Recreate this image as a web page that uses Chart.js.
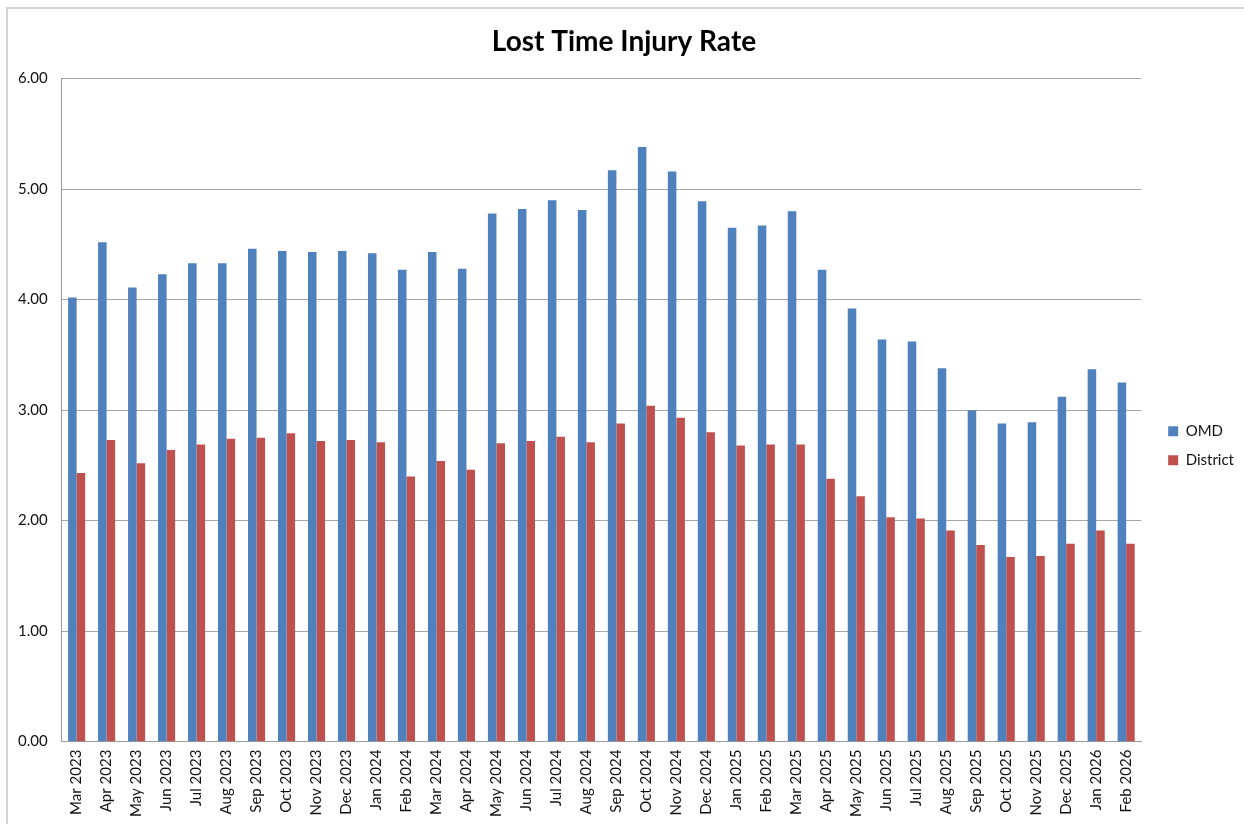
<!DOCTYPE html>
<html>
<head>
<meta charset="utf-8">
<script src="https://cdn.jsdelivr.net/npm/chart.js@4.4.1/dist/chart.umd.min.js"></script>
<style>
  html, body { margin: 0; padding: 0; background: #fff; }
  #wrap { width: 1244px; height: 824px; position: relative; }
</style>
</head>
<body>
<div id="wrap"><canvas id="barChart" width="1244" height="824"></canvas></div>
<script>
const months = [
    "Mar 2023", "Apr 2023", "May 2023", "Jun 2023", "Jul 2023", "Aug 2023",
    "Sep 2023", "Oct 2023", "Nov 2023", "Dec 2023", "Jan 2024", "Feb 2024",
    "Mar 2024", "Apr 2024", "May 2024", "Jun 2024", "Jul 2024", "Aug 2024",
    "Sep 2024", "Oct 2024", "Nov 2024", "Dec 2024", "Jan 2025", "Feb 2025",
    "Mar 2025", "Apr 2025", "May 2025", "Jun 2025", "Jul 2025", "Aug 2025",
    "Sep 2025", "Oct 2025", "Nov 2025", "Dec 2025", "Jan 2026", "Feb 2026"
];

const omd = [
    4.02, 4.52, 4.11, 4.23, 4.33, 4.33, 4.46, 4.44, 4.43, 4.44, 4.42, 4.27,
    4.43, 4.28, 4.78, 4.82, 4.90, 4.81, 5.17, 5.38, 5.16, 4.89, 4.65, 4.67,
    4.80, 4.27, 3.92, 3.64, 3.62, 3.38, 3.00, 2.88, 2.89, 3.12, 3.37, 3.25
];

const district = [
    2.43, 2.73, 2.52, 2.64, 2.69, 2.74, 2.75, 2.79, 2.72, 2.73, 2.71, 2.40,
    2.54, 2.46, 2.70, 2.72, 2.76, 2.71, 2.88, 3.04, 2.93, 2.80, 2.68, 2.69,
    2.69, 2.38, 2.22, 2.03, 2.02, 1.91, 1.78, 1.67, 1.68, 1.79, 1.91, 1.79
];

const yTicks = [0, 1, 2, 3, 4, 5, 6];

const FONT = "Lato, 'Liberation Sans', Arial, sans-serif";
const LEGEND_GAP = 13; // empty space between plot and legend

// light grey frame round the chart, like the spreadsheet chart box
const frame = {
    id: "frame",
    beforeDraw(chart) {
        const c = chart.ctx;
        c.save();
        c.fillStyle = "#fff";
        c.fillRect(0, 0, chart.width, chart.height);
        c.strokeStyle = "#d4d4d4";
        c.lineWidth = 2;
        c.beginPath();
        c.moveTo(7, chart.height);
        c.lineTo(7, 8);
        c.lineTo(chart.width, 8);
        c.stroke();
        c.restore();
    }
};

// widen the legend box on its left side so the plot stops short of it
const legendGap = {
    id: "legendGap",
    beforeLayout(chart) {
        const leg = chart.legend;
        if (!leg || leg._gapPatched) return;
        leg._gapPatched = true;
        const fit = leg.fit;
        leg.fit = function () {
            fit.call(this);
            this.width += LEGEND_GAP;
        };
        const draw = leg.draw;
        leg.draw = function () {
            this.left += LEGEND_GAP;
            draw.call(this);
            this.left -= LEGEND_GAP;
        };
    }
};

const ctx = document.getElementById("barChart");

new Chart(ctx, {
    type: "bar",
    data: {
        labels: months,
        datasets: [
        {
            label: "OMD",
            data: omd,
            backgroundColor: "#4F81BD",
            borderWidth: 0,
            barPercentage: 1,
            categoryPercentage: 0.57,
        },
        {
            label: "District",
            data: district,
            backgroundColor: "#C0504D",
            borderWidth: 0,
            barPercentage: 1,
            categoryPercentage: 0.57,
        },
        ],
    },
    options: {
        responsive: false,
        animation: false,
        layout: {
            padding: { top: 10, left: 4, right: 0, bottom: -1 },
        },
        plugins: {
            title: {
                display: true,
                text: "Lost Time Injury Rate",
                color: "#000",
                font: { family: FONT, size: 28, weight: "bold" },
                padding: { top: 15, bottom: 20 },
            },
            legend: {
                position: "right",
                title: {
                    display: true,
                    text: "",
                    font: { family: FONT, size: 12 },
                    padding: { top: 0, bottom: 42 },
                },
                labels: {
                    boxWidth: 10,
                    boxHeight: 10,
                    padding: 14,
                    color: "#111",
                    font: { family: FONT, size: 15 },
                },
            },
            tooltip: { enabled: false },
        },
        scales: {
            x: {
                grid: { display: false, drawTicks: false },
                border: { display: true, color: "#9a9a9a", width: 1 },
                ticks: {
                    minRotation: 90,
                    maxRotation: 90,
                    autoSkip: false,
                    padding: 8,
                    color: "#111",
                    font: { family: FONT, size: 15 },
                },
            },
            y: {
                min: 0,
                max: 6,
                afterBuildTicks(axis) {
                    axis.ticks = yTicks.map(v => ({ value: v }));
                },
                grid: { color: "#a6a6a6", lineWidth: 1, drawTicks: false },
                border: { display: true, color: "#9a9a9a", width: 1 },
                ticks: {
                    padding: 14,
                    color: "#111",
                    font: { family: FONT, size: 15 },
                    callback: v => Number(v).toFixed(2),
                },
            },
        },
    },
    plugins: [frame, legendGap],
});
</script>
</body>
</html>
